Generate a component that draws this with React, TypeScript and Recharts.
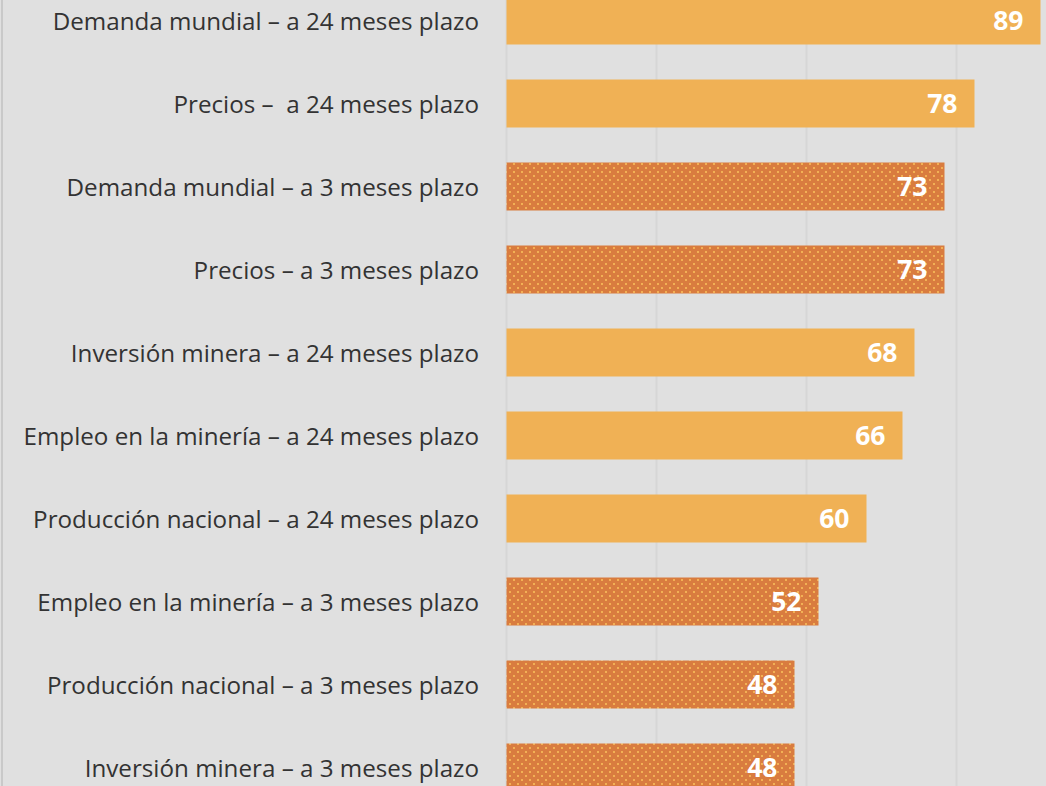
import React from "react";
import { BarChart, Bar, XAxis, YAxis, CartesianGrid, Cell, LabelList } from "recharts";

const categories = [
  "Demanda mundial – a 24 meses plazo",
  "Precios –  a 24 meses plazo",
  "Demanda mundial – a 3 meses plazo",
  "Precios – a 3 meses plazo",
  "Inversión minera – a 24 meses plazo",
  "Empleo en la minería – a 24 meses plazo",
  "Producción nacional – a 24 meses plazo",
  "Empleo en la minería – a 3 meses plazo",
  "Producción nacional – a 3 meses plazo",
  "Inversión minera – a 3 meses plazo",
];
const values = [89, 78, 73, 73, 68, 66, 60, 52, 48, 48];
const horizons = ["24", "24", "3", "3", "24", "24", "24", "3", "3", "3"];
const xTicks = [0, 25, 50, 75, 100];

const data = categories.map((name, i) => ({ name, value: values[i], horizon: horizons[i] }));

const FONT = "'Open Sans', 'Noto Sans', sans-serif";

const CategoryTick = (props: any) => {
  const { x, y, payload } = props;
  return (
    <text
      x={x}
      y={y}
      textAnchor="end"
      dominantBaseline="central"
      fill="#333333"
      fontSize={24.2}
      fontFamily={FONT}
      style={{ whiteSpace: "pre" }}
    >
      {payload.value}
    </text>
  );
};

const ValueLabel = (props: any) => {
  const { x, y, width, height, value } = props;
  return (
    <text
      x={x + width - 17}
      y={y + height / 2 - 0.5}
      textAnchor="end"
      dominantBaseline="central"
      fill="#ffffff"
      fontSize={26.5}
      fontWeight={700}
      fontFamily={FONT}
    >
      {value}
    </text>
  );
};

export default function App() {
  return (
    <div
      style={{
        position: "fixed",
        left: 0,
        top: 0,
        width: 1046,
        height: 786,
        overflow: "hidden",
        background: "#e0e0e0",
      }}
    >
      <svg width={0} height={0} style={{ position: "absolute" }}>
        <defs>
          <pattern id="dots" x={0} y={0} width={8} height={8} patternUnits="userSpaceOnUse">
            <rect x={0} y={0} width={8} height={8} fill="#d97c3f" />
            <rect x={1} y={1} width={2} height={2} fill="#f2b055" />
            <rect x={5} y={5} width={2} height={2} fill="#f2b055" />
          </pattern>
        </defs>
      </svg>
      <div
        style={{
          position: "absolute",
          left: 1,
          top: 0,
          width: 2,
          height: 786,
          background: "#c9c9c9",
        }}
      />
      <div style={{ position: "absolute", left: 0, top: -22.5 }}>
        <BarChart
          width={1110}
          height={860}
          data={data}
          layout="vertical"
          margin={{ top: 0.5, right: 3.5, bottom: 29.5, left: 0 }}
        >
          <CartesianGrid horizontal={false} stroke="#d6d6d6" strokeWidth={2} />
          <XAxis type="number" domain={[0, 100]} ticks={xTicks} hide />
          <YAxis
            type="category"
            dataKey="name"
            width={506.5}
            axisLine={false}
            tickLine={false}
            tickSize={0}
            tickMargin={27.5}
            tick={<CategoryTick />}
            interval={0}
          />
          <Bar dataKey="value" barSize={48} isAnimationActive={false}>
            {data.map((d, i) => (
              <Cell key={i} fill={d.horizon === "24" ? "#f0b155" : "url(#dots)"} />
            ))}
            <LabelList dataKey="value" content={<ValueLabel />} />
          </Bar>
        </BarChart>
      </div>
    </div>
  );
}
